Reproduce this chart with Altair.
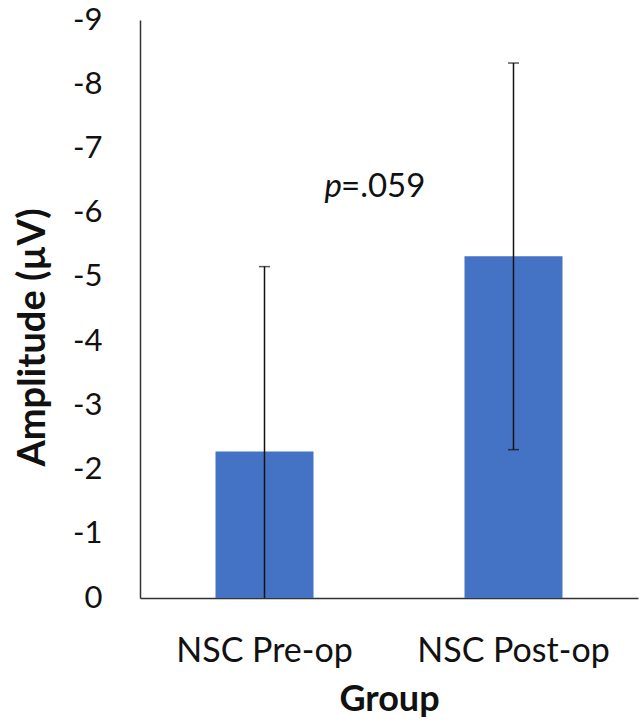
import altair as alt
import pandas as pd

groups = ["NSC Pre-op", "NSC Post-op"]
means = [-2.28, -5.32]
sds = [2.88, 3.01]
tick_values = [0, -1, -2, -3, -4, -5, -6, -7, -8, -9]

df = pd.DataFrame({
    "group": groups,
    "mean": means,
    "lo": [m + s for m, s in zip(means, sds)],
    "hi": [m - s for m, s in zip(means, sds)],
})

FONT = "Lato"
W, H = 498, 578

x_enc = alt.X(
    "group:N", sort=groups, title="Group",
    scale=alt.Scale(paddingInner=0.0, paddingOuter=0.0),
    axis=alt.Axis(
        labelFont=FONT, labelFontSize=34, labelColor="#111111", labelAngle=0,
        labelPadding=36, labelLimit=1000, ticks=False, domainColor="#333333", domainWidth=1.5,
        titleFont=FONT, titleFontSize=36, titleFontWeight="bold", titleColor="#111111",
        titlePadding=14, grid=False,
    ),
)
y_scale = alt.Scale(domain=[0, -9], nice=False)
y_axis = alt.Axis(
    values=tick_values,
    labelExpr="datum.value == 0 ? '0' : '-' + abs(datum.value)",
    labelFont=FONT, labelFontSize=31, labelColor="#111111",
    labelPadding=38, ticks=False, domainColor="#333333", domainWidth=1.5,
    titleFont=FONT, titleFontSize=38, titleFontWeight="bold", titleColor="#111111",
    titleX=-107, titleY=317, titleAlign="center", titleBaseline="middle",
    titleAngle=270, grid=False,
)

base = alt.Chart(df)

bars = base.mark_bar(color="#4472C4", size=98).encode(
    x=x_enc,
    y=alt.Y("mean:Q", scale=y_scale, axis=y_axis, title="Amplitude (µV)"),
)

rule = base.mark_rule(color="#111111", strokeWidth=1.5, clip=True).encode(
    x=alt.X("group:N", sort=groups),
    y="lo:Q",
    y2="hi:Q",
)
cap_hi = base.mark_tick(color="#111111", thickness=1.5, size=11, orient="horizontal", clip=True).encode(
    x=alt.X("group:N", sort=groups),
    y="hi:Q",
)
cap_lo = base.mark_tick(color="#111111", thickness=1.5, size=11, orient="horizontal", clip=True).encode(
    x=alt.X("group:N", sort=groups),
    y="lo:Q",
)

ann_df = pd.DataFrame({"t": ["x"]})
p_text = alt.Chart(ann_df).mark_text(
    text="p", font=FONT, fontSize=33, fontStyle="italic", align="right",
    baseline="alphabetic", color="#111111", dx=1,
).encode(x=alt.value(201), y=alt.value(177))
val_text = alt.Chart(ann_df).mark_text(
    text="=.059", font=FONT, fontSize=33, align="left",
    baseline="alphabetic", color="#111111",
).encode(x=alt.value(201), y=alt.value(177))

chart = alt.layer(bars, rule, cap_hi, cap_lo, p_text, val_text).properties(
    width=W, height=H,
    padding={"left": 140, "top": 20, "right": 3, "bottom": 127},
    autosize=alt.AutoSizeParams(type="none"),
    background="white",
).configure_view(stroke=None)

chart.save("out.html", embed_options={"renderer": "svg", "actions": False})
